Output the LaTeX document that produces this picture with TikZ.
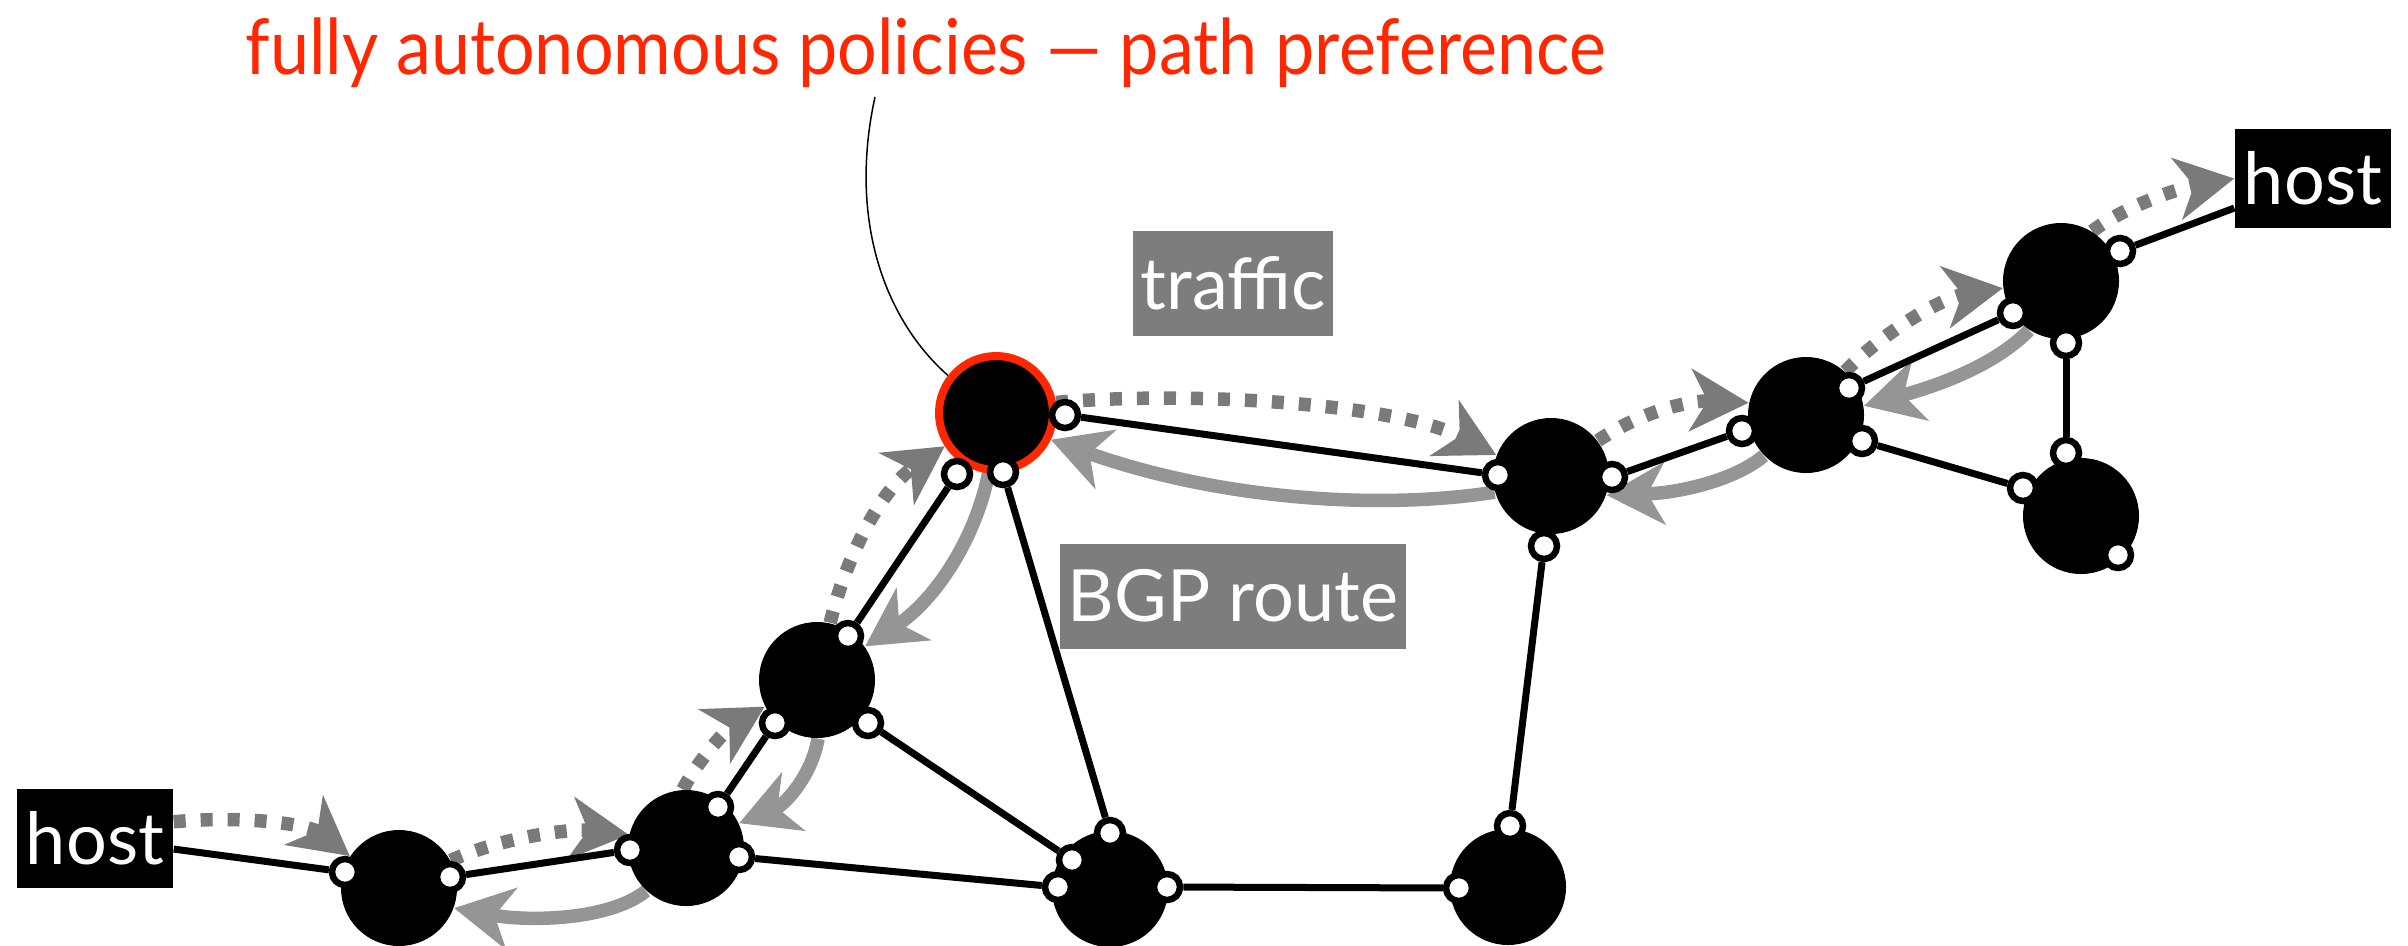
\documentclass[tikz,border=0pt]{standalone}
\usepackage{fontspec}
\usepackage{graphicx}
\setmainfont{Lato}
\usetikzlibrary{arrows.meta}
\definecolor{alertred}{RGB}{255,38,0}
\definecolor{trafficgray}{RGB}{122,122,122}
\definecolor{routegray}{RGB}{149,149,149}
\definecolor{labelgray}{RGB}{125,125,125}
\pgfdeclarelayer{back}
\pgfsetlayers{back,main}
\tikzset{
  router/.style={circle, fill=black, inner sep=0pt, minimum size=11.6mm},
  hot/.style={router, draw=alertred, line width=0.8mm, minimum size=11.4mm},
  port/.style={circle, fill=white, draw=black, line width=0.65mm, inner sep=0pt, minimum size=2.6mm},
  link/.style={line width=0.7mm, draw=black},
  hostbox/.style={fill=black, text=white, inner sep=0pt, minimum width=15.6mm,
    minimum height=9.9mm, font=\fontsize{20.5}{24}\selectfont},
  tag/.style={fill=labelgray, text=white, inner sep=0pt, minimum height=10.5mm,
    font=\fontsize{20.5}{24}\selectfont},
  tip/.style={-{Stealth[length=5.8mm, width=6.2mm, inset=1.7mm]}},
  traffic/.style={tip, draw=trafficgray, line width=1.35mm, dash pattern=on 1.2mm off 1.5mm},
  bgp/.style={tip, draw=routegray, line width=1.35mm},
  callout/.style={draw=black, line width=0.15mm},
}
\begin{document}
\begin{tikzpicture}[x=0.1mm, y=-0.1mm]
\useasboundingbox (0,0) rectangle (2408,945);
\path[clip] (0,0) rectangle (2408,945);

% title and its pointer to the policy router
\node[anchor=base, text=alertred, inner sep=0pt, font=\fontsize{21.9}{26}\selectfont]
  (title) at (925.5,74) {\scalebox{0.91}[1]{fully autonomous policies — path preference}};
\coordinate (calloutstart) at (875,97);

% hosts
\node[hostbox] (h1) at (95,838.5) {host};
\node[hostbox] (h2) at (2313,178.5) {host};

% labels
\node[tag, minimum width=20mm] (trafficlbl) at (1233,283) {traffic};
\node[tag, minimum width=34.6mm] (bgplbl) at (1233,596) {BGP route};

% routers
\node[router] (r1) at (399,888) {};
\node[router] (r2) at (686,848) {};
\node[router] (r3) at (817,680) {};
\node[hot]    (r4) at (996,413) {};
\node[router] (r5) at (1551,476) {};
\node[router] (r6) at (1806,415) {};
\node[router] (r7) at (2061,281) {};
\node[router] (r8) at (2081,516) {};
\node[router] (r9) at (1110,889) {};
\node[router] (r10) at (1508,887) {};

% interfaces
\node[port] (p1a) at (345,872) {};
\node[port] (p1b) at (450,877) {};
\node[port] (p2a) at (630,850) {};
\node[port] (p2b) at (739,857) {};
\node[port] (p2c) at (718,807) {};
\node[port] (p3a) at (848,636) {};
\node[port] (p3b) at (775,723) {};
\node[port] (p3c) at (868,723) {};
\node[port] (p4a) at (1065,415) {};
\node[port] (p4b) at (957,474) {};
\node[port] (p4c) at (1003,472) {};
\node[port] (p5a) at (1498,475) {};
\node[port] (p5b) at (1612,477) {};
\node[port] (p5c) at (1544,546) {};
\node[port] (p6a) at (1742,431) {};
\node[port] (p6b) at (1849,388) {};
\node[port] (p6c) at (1862,441) {};
\node[port] (p7a) at (2013,313) {};
\node[port] (p7b) at (2066,343) {};
\node[port] (p7c) at (2120,251) {};
\node[port] (p8a) at (2066,453) {};
\node[port] (p8b) at (2023,488) {};
\node[port] (p8c) at (2118,555) {};
\node[port] (p9a) at (1110,833) {};
\node[port] (p9b) at (1072,860) {};
\node[port] (p9c) at (1058,887) {};
\node[port] (p9d) at (1167,887) {};
\node[port] (p10a) at (1459,888) {};
\node[port] (p10b) at (1510,826) {};

\begin{pgfonlayer}{back}
  % traffic flow, host to host
  \draw[traffic] (h1.12) .. controls (250,815) and (310,825) .. (r1.147);
  \draw[traffic] (r1.28) .. controls (500,838) and (570,828) .. (r2.167);
  \draw[traffic] (r2.93) .. controls (695,765) and (725,730) .. (r3.207);
  \draw[traffic] (r3.77) .. controls (845,560) and (880,490) .. (r4.213);
  \draw[traffic] (r4.10) .. controls (1200,390) and (1400,405) .. (r5.159);
  \draw[traffic] (r5.37) .. controls (1640,412) and (1690,400) .. (r6.168);
  \draw[traffic] (r6.48) .. controls (1880,335) and (1940,298) .. (r7.187);
  \draw[traffic] (r7.58) .. controls (2120,210) and (2170,190) .. (h2.west);

  % route announcements, back the other way
  \draw[bgp] (r7.237) .. controls (1995,365) and (1940,385) .. (r6.9);
  \draw[bgp] (r6.224) .. controls (1735,480) and (1680,493) .. (r5.341);
  \draw[bgp] (r5.196) .. controls (1380,510) and (1220,500) .. (r4.334);
  \draw[bgp] (r4.263) .. controls (975,540) and (935,600) .. (r3.35);
  \draw[bgp] (r3.271) .. controls (812,775) and (785,805) .. (r2.25);
  \draw[bgp] (r2.227) .. controls (610,920) and (530,922) .. (r1.340);

  % physical links
  \draw[link] (h1) -- (p1a);
  \draw[link] (p1b) -- (p2a);
  \draw[link] (p2c) -- (p3b);
  \draw[link] (p3a) -- (p4b);
  \draw[link] (p4c) -- (p9a);
  \draw[link] (p3c) -- (p9b);
  \draw[link] (p2b) -- (p9c);
  \draw[link] (p9d) -- (p10a);
  \draw[link] (p10b) -- (p5c);
  \draw[link] (p4a) -- (p5a);
  \draw[link] (p5b) -- (p6a);
  \draw[link] (p6b) -- (p7a);
  \draw[link] (p6c) -- (p8b);
  \draw[link] (p7b) -- (p8a);
  \draw[link] (p7c) -- (h2);

  % callout
  \draw[callout] (calloutstart) .. controls (848,220) and (885,320) .. (r4.142);
\end{pgfonlayer}
\end{tikzpicture}
\end{document}
